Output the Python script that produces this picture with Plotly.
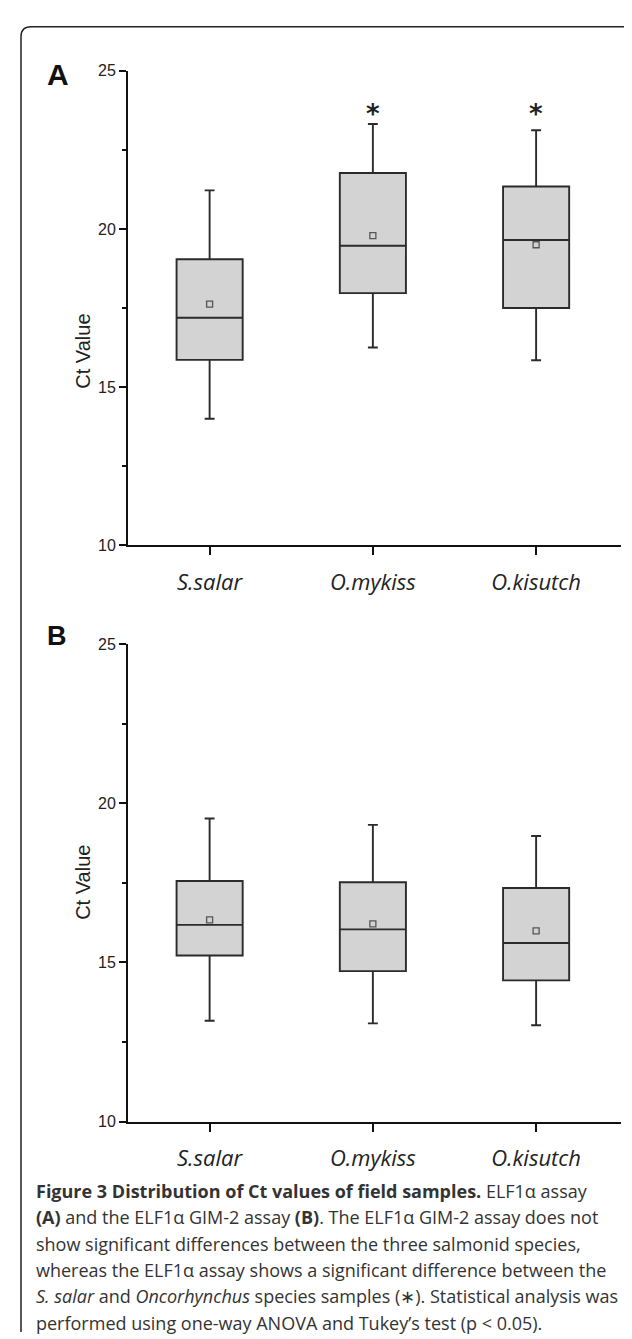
import plotly.graph_objects as go

W, H = 632, 1339

species = ["S.salar", "O.mykiss", "O.kisutch"]

# Panel A (ELF1a assay)
a_low = [14.0, 16.25, 15.85]
a_q1 = [15.86, 17.97, 17.5]
a_med = [17.19, 19.47, 19.65]
a_q3 = [19.04, 21.77, 21.34]
a_high = [21.22, 23.32, 23.12]
a_mean = [17.62, 19.79, 19.5]
a_sig = ["", "*", "*"]
a_sig_y = [None, 23.8, 23.8]

# Panel B (ELF1a GIM-2 assay)
b_low = [13.17, 13.09, 13.03]
b_q1 = [15.22, 14.73, 14.44]
b_med = [16.18, 16.04, 15.61]
b_q3 = [17.56, 17.52, 17.34]
b_high = [19.52, 19.32, 18.97]
b_mean = [16.34, 16.21, 15.99]

y_ticks = [10, 15, 20, 25]

caption_lines = [
    "<b>Figure 3 Distribution of Ct values of field samples.</b> ELF1α assay",
    "<b>(A)</b> and the ELF1α GIM-2 assay <b>(B)</b>. The ELF1α GIM-2 assay does not",
    "show significant differences between the three salmonid species,",
    "whereas the ELF1α assay shows a significant difference between the",
    "<i>S. salar</i> and <i>Oncorhynchus</i> species samples (∗). Statistical analysis was",
    "performed using one-way ANOVA and Tukey’s test (p &lt; 0.05).",
]


def px(x):
    return x / W


def py(y):
    return 1 - y / H


fig = go.Figure()

BOX_FILL = "#d3d3d3"
LINE = "#2b2b2b"

for (low, q1, med, q3, high, mean, xa, ya) in [
    (a_low, a_q1, a_med, a_q3, a_high, a_mean, "x", "y"),
    (b_low, b_q1, b_med, b_q3, b_high, b_mean, "x2", "y2"),
]:
    fig.add_trace(go.Box(
        x=species, q1=q1, median=med, q3=q3,
        lowerfence=low, upperfence=high,
        fillcolor=BOX_FILL, line=dict(color=LINE, width=1.9),
        width=0.405, whiskerwidth=0.15, boxpoints=False,
        xaxis=xa, yaxis=ya, showlegend=False, hoverinfo="skip",
    ))
    fig.add_trace(go.Scatter(
        x=species, y=mean, mode="markers",
        marker=dict(symbol="square-open", size=6, color="#555555",
                    line=dict(width=1.3, color="#555555")),
        xaxis=xa, yaxis=ya, showlegend=False, hoverinfo="skip",
    ))

# significance asterisks
for s, sy, sig in zip(species, a_sig_y, a_sig):
    if sig:
        fig.add_annotation(x=s, y=sy, xref="x", yref="y", text="<b>%s</b>" % sig,
                           showarrow=False, yanchor="middle", yshift=-5,
                           font=dict(family="DejaVu Sans", size=26, color="#222"))

xdom = [px(120), px(613)]
common_x = dict(
    type="category", range=[-0.5, 2.52], showline=True, linecolor="#111",
    linewidth=2, ticks="outside", ticklen=8, tickwidth=2, tickcolor="#111",
    showgrid=False, zeroline=False, ticklabelstandoff=8,
    tickfont=dict(family="Open Sans", size=22, color="#222", style="italic"),
    categoryorder="array", categoryarray=species,
)
common_y = dict(
    range=[10, 25], tickvals=y_ticks, showline=True, linecolor="#111",
    linewidth=2, ticks="outside", ticklen=7, tickwidth=2, tickcolor="#111",
    minor=dict(dtick=2.5, ticklen=4, tickwidth=2, tickcolor="#111", ticks="outside"),
    showgrid=False, zeroline=False,
    tickfont=dict(family="Liberation Sans", size=16, color="#222"),
)

fig.update_layout(
    width=W, height=H, margin=dict(l=0, r=0, t=0, b=0),
    paper_bgcolor="white", plot_bgcolor="white",
    xaxis=dict(domain=xdom, anchor="y", **common_x),
    yaxis=dict(domain=[py(536), py(55.5)], anchor="x", **common_y),
    xaxis2=dict(domain=xdom, anchor="y2", **common_x),
    yaxis2=dict(domain=[py(1120), py(636)], anchor="x2", **common_y),
)

# y-axis titles
for ycen in [300, 878]:
    fig.add_annotation(x=px(62), y=py(ycen), xref="paper", yref="paper",
                       text="Ct Value", textangle=-90, showarrow=False,
                       font=dict(family="Liberation Sans", size=20, color="#222"))

# panel letters
for letter, yc, fs in [("A", 41, 30), ("B", 628, 27)]:
    fig.add_annotation(x=px(37), y=py(yc), xref="paper", yref="paper",
                       text="<b>%s</b>" % letter, showarrow=False, xanchor="left",
                       font=dict(family="Liberation Sans", size=fs, color="#111"))

# caption
for i, line in enumerate(caption_lines):
    fig.add_annotation(x=px(26), y=py(1190 + i * 26.7), xref="paper", yref="paper",
                       text=line, showarrow=False, xanchor="left", yanchor="middle",
                       font=dict(family="Open Sans", size=18, color="#333"))

# rounded border frame
L, T, B, R, r = 13, 11, 1333, 660, 10
path = (f"M {px(R)},{py(T)} L {px(L + r)},{py(T)} "
        f"Q {px(L)},{py(T)} {px(L)},{py(T + r)} "
        f"L {px(L)},{py(B)}")
fig.add_shape(type="path", path=path, xref="paper", yref="paper",
              line=dict(color="#222", width=1.5))

fig.write_html("out.html")
